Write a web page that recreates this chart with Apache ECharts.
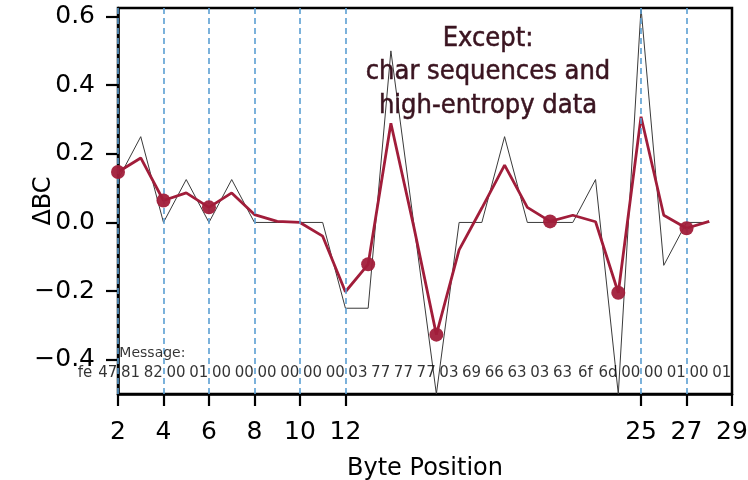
<!DOCTYPE html>
<html>
<head>
<meta charset="utf-8">
<script src="https://cdn.jsdelivr.net/npm/echarts@6/dist/echarts.min.js"></script>
<style>
  html, body { margin: 0; padding: 0; background: #fff; }
  #chart { width: 748px; height: 480px; }
</style>
</head>
<body>
<div id="chart"></div>
<script>
// Byte positions along the message
const positions = [2, 3, 4, 5, 6, 7, 8, 9, 10, 11, 12, 13, 14, 15, 16, 17, 18, 19, 20, 21, 22, 23, 24, 25, 26, 27, 28];
// Per-byte change in BC (thin grey trace)
const rawDelta = [0.125, 0.25, 0, 0.125, 0, 0.125, 0, 0, 0, 0, -0.25, -0.25, 0.5, 0, -0.5, 0, 0, 0.25, 0, 0, 0, 0.125, -0.5, 0.625, -0.125, 0, 0];
// Smoothed change in BC (red trace)
const smoothDelta = [0.147, 0.188, 0.064, 0.086, 0.044, 0.086, 0.023, 0.003, 0.0, -0.04, -0.202, -0.122, 0.289, -0.01, -0.327, -0.08, 0.042, 0.167, 0.044, 0.003, 0.021, 0.002, -0.205, 0.308, 0.021, -0.017, 0.003];
// Positions highlighted with a dot on the smoothed trace
const markedPositions = [2, 4, 6, 13, 16, 21, 24, 27];
// Field boundaries (dashed verticals)
const boundaryPositions = [2, 4, 6, 8, 10, 12, 25, 27];
// Axis tick values
const xTickValues = [2, 4, 6, 8, 10, 12, 25, 27, 29];
const yTickValues = [-0.4, -0.2, 0, 0.2, 0.4, 0.6];
// Message bytes, index 0 first
const messageBytes = ['fe', '47', '81', '82', '00', '01', '00', '00', '00', '00', '00', '00', '03', '77', '77', '77', '03', '69', '66', '63', '03', '63', '6f', '6d', '00', '00', '01', '00', '01'];

const RED = '#a11d3a';
const FONT = 'DejaVu Sans';

const rawPoints = positions.map((p, i) => [p, rawDelta[i]]);
const smoothPoints = positions.map((p, i) => [p, smoothDelta[i]]);
const dotPoints = markedPositions.map(p => [p, smoothDelta[positions.indexOf(p)]]);

const BYTE_ROW_Y = -0.44;
const byteLabels = messageBytes.map((b, i) => ({ value: [i + 0.55, BYTE_ROW_Y], name: b }));

const fmtY = v => (v < 0 ? '\u2212' : '') + Math.abs(v).toFixed(1);

const chart = echarts.init(document.getElementById('chart'), null, { renderer: 'canvas' });
chart.setOption({
  animation: false,
  backgroundColor: '#fff',
  grid: {
    left: 118, right: 16, top: 8, bottom: 86,
    outerBoundsMode: 'none', containLabel: false,
    show: true, borderColor: '#000', borderWidth: 2.5, backgroundColor: 'transparent'
  },
  xAxis: {
    type: 'value', min: 2, max: 29,
    name: 'Byte Position', nameLocation: 'middle', nameGap: 63, nameMoveOverlap: false,
    nameTextStyle: { fontFamily: FONT, fontSize: 24, color: '#000' },
    axisLine: { show: true, onZero: false, lineStyle: { color: '#000', width: 2.5 } },
    axisTick: { show: true, length: 12, lineStyle: { color: '#000', width: 2.2 }, customValues: xTickValues },
    axisLabel: { fontFamily: FONT, fontSize: 25, color: '#000', margin: 26, customValues: xTickValues },
    splitLine: { show: false }
  },
  yAxis: {
    type: 'value', min: -0.5, max: 0.625,
    name: '\u0394BC', nameLocation: 'middle', nameGap: 62, nameRotate: 90, nameMoveOverlap: false,
    nameTextStyle: { fontFamily: FONT, fontSize: 24, color: '#000' },
    axisLine: { show: true, onZero: false, lineStyle: { color: '#000', width: 2.5 } },
    axisTick: { show: true, length: 12, lineStyle: { color: '#000', width: 2.2 }, customValues: yTickValues },
    axisLabel: { fontFamily: FONT, fontSize: 25, color: '#000', margin: 23, formatter: fmtY, customValues: yTickValues },
    splitLine: { show: false }
  },
  series: [
    {
      name: 'boundaries', type: 'line', data: [], silent: true,
      markLine: {
        silent: true, symbol: 'none', animation: false,
        label: { show: false },
        lineStyle: { color: '#5b9fd3', width: 1.6, type: [6, 4] },
        data: boundaryPositions.map(p => ({ xAxis: p }))
      }
    },
    {
      name: 'raw', type: 'line', data: rawPoints, symbol: 'none', silent: true,
      lineStyle: { color: '#3a3a3a', width: 1 }, z: 3
    },
    {
      name: 'smooth', type: 'line', data: smoothPoints, symbol: 'none', silent: true,
      lineStyle: { color: RED, width: 2.8 }, z: 4
    },
    {
      name: 'marked', type: 'scatter', data: dotPoints, symbolSize: 14, silent: true,
      itemStyle: { color: RED, opacity: 0.95 }, z: 5
    },
    {
      name: 'bytes', type: 'scatter', data: byteLabels, symbolSize: 0, silent: true, clip: false,
      label: {
        show: true, position: 'inside', formatter: p => p.name,
        fontFamily: FONT, fontSize: 15, color: '#000'
      }, z: 6
    },
    {
      name: 'messageTitle', type: 'scatter', data: [{ value: [2.06, -0.381], name: 'Message:' }],
      symbolSize: 0, silent: true, clip: false,
      label: {
        show: true, position: 'right', distance: 0, formatter: p => p.name,
        fontFamily: FONT, fontSize: 14, color: '#000'
      }, z: 6
    }
  ],
  graphic: [{
    type: 'text', x: 488, y: 22, z: 10,
    style: {
      text: 'Except:\nchar sequences and\nhigh-entropy data',
      align: 'center', verticalAlign: 'top',
      font: '27px "DejaVu Sans Condensed"', fill: '#3a1420', lineHeight: 33.5,
      stroke: '#3a1420', lineWidth: 0.5
    }
  }]
});
</script>
</body>
</html>
